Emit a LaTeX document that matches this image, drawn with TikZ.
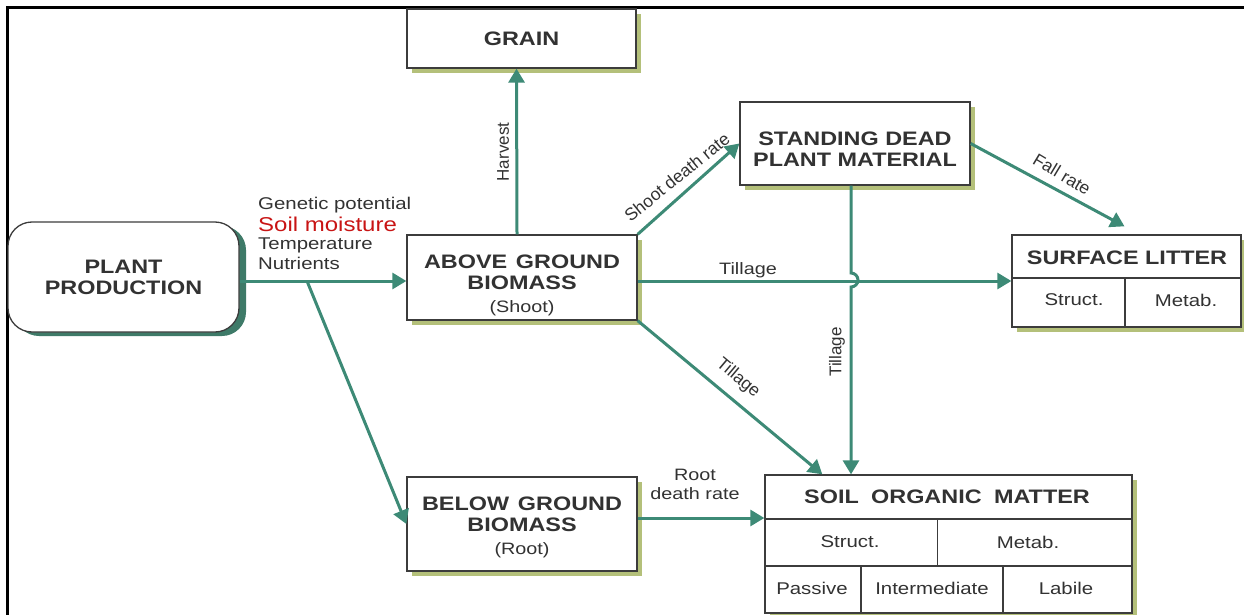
\documentclass[tikz,border=0pt]{standalone}
\usepackage{fontspec}
\setmainfont{Liberation Sans}[FakeStretch=1.2]
\newfontfamily\plainsans{Liberation Sans}
\usetikzlibrary{arrows.meta,shadows}
\definecolor{arrowteal}{RGB}{61,138,118}
\definecolor{shadeolive}{RGB}{180,192,122}
\definecolor{shadeteal}{RGB}{62,122,104}
\definecolor{boxline}{RGB}{60,60,60}
\definecolor{txtgray}{RGB}{50,50,50}
\definecolor{moist}{RGB}{200,20,20}
\newcommand\ttlfnt{\fontsize{19.5}{21}\selectfont\bfseries}
\newcommand\lblfnt{\fontsize{16.5}{19}\selectfont\mdseries}
\newcommand\vlblfnt{\plainsans\fontsize{17}{19}\selectfont}
\newcommand\dlblfnt{\plainsans\fontsize{17.5}{19}\selectfont}
\begin{document}
\begin{tikzpicture}[x=1pt,y=-1pt,
  box/.style={draw=boxline,line width=1.3pt,fill=white,inner sep=0pt,text=txtgray,align=center,font=\ttlfnt,
    copy shadow={shadow xshift=5pt,shadow yshift=-5pt,draw=none,fill=shadeolive}},
  rbox/.style={draw=boxline,line width=1.3pt,fill=white,inner sep=0pt,text=txtgray,align=center,font=\ttlfnt,rounded corners=24pt,
    copy shadow={shadow xshift=7pt,shadow yshift=-4pt,draw=none,fill=shadeteal}},
  arr/.style={draw=arrowteal,line width=3pt,-{Triangle[length=14pt,width=16pt]}},
  conn/.style={draw=arrowteal,line width=3pt},
  divider/.style={draw=boxline,line width=1.3pt},
  lbl/.style={inner sep=0pt,text=txtgray,font=\lblfnt,align=center},
  vlbl/.style={inner sep=0pt,text=txtgray,font=\vlblfnt,align=center},
  dlbl/.style={inner sep=0pt,text=txtgray,font=\dlblfnt,align=center},
  cell/.style={inner sep=0pt,text=txtgray,font=\fontsize{17}{19}\selectfont\mdseries},
  ttl/.style={inner sep=0pt,text=txtgray,font=\ttlfnt}
]
\useasboundingbox (0,0) rectangle (1244,615);
% frame
\draw[line width=2.5pt,black] (7.5,615) -- (7.5,7.5) -- (1244,7.5);

% boxes
\node[rbox,minimum width=231pt,minimum height=110pt] (plant) at (123.5,277) {PLANT\\PRODUCTION};
\node[box,minimum width=229pt,minimum height=59pt] (grain) at (521.5,38.5) {GRAIN};
\node[box,minimum width=230pt,minimum height=85pt] (above) at (522,277.5) {\rule{0pt}{30pt}ABOVE\hspace{0.45em}GROUND\\BIOMASS\\[2pt]{\lblfnt (Shoot)}};
\node[box,minimum width=230pt,minimum height=94pt] (below) at (522,524) {\rule{0pt}{20pt}BELOW\hspace{0.45em}GROUND\\BIOMASS\\[2pt]{\lblfnt (Root)}};
\node[box,minimum width=230pt,minimum height=83pt] (standing) at (855,143.5) {\rule{0pt}{24pt}STANDING DEAD\\PLANT MATERIAL};
\node[box,minimum width=229pt,minimum height=92pt] (litter) at (1126.5,281) {};
\node[box,minimum width=367pt,minimum height=138pt] (som) at (948.5,544) {};

% surface litter inside
\coordinate (lrow) at (1125,278);
\draw[divider] (litter.west |- lrow) -- (litter.east |- lrow);
\draw[divider] (lrow) -- (lrow |- litter.south);
\node[ttl] (littert) at (1127,258) {SURFACE LITTER};
\node[cell] (litters) at (1074,300) {Struct.};
\node[cell] (litterm) at (1186,300) {Metab.};

% soil organic matter inside
\coordinate (srow1) at (937.5,519);
\coordinate (srow2a) at (861,566);
\coordinate (srow2b) at (1003,566);
\draw[divider] (som.west |- srow1) -- (som.east |- srow1);
\draw[divider] (som.west |- srow2a) -- (som.east |- srow2a);
\draw[divider] (srow1) -- (srow1 |- srow2a);
\draw[divider] (srow2a) -- (srow2a |- som.south);
\draw[divider] (srow2b) -- (srow2b |- som.south);
\node[ttl] (somt) at (947,497) {SOIL\hspace{0.3em} ORGANIC\hspace{0.3em} MATTER};
\node[cell] (soms) at (850,542) {Struct.};
\node[cell] (somm) at (1028,542) {Metab.};
\node[cell] (somp) at (812,588) {Passive};
\node[cell] (somi) at (932,588) {Intermediate};
\node[cell] (soml) at (1066,588) {Labile};

% factor labels
\node[lbl,anchor=west,font=\fontsize{17}{19}\selectfont] (gen) at (258,205) {Genetic potential};
\node[lbl,anchor=west,text=moist,font=\fontsize{20}{22}\selectfont] (moisture) at (258,224) {Soil moisture};
\node[lbl,anchor=west,font=\fontsize{17}{19}\selectfont] (temp) at (258,245) {Temperature};
\node[lbl,anchor=west,font=\fontsize{17}{19}\selectfont] (nutr) at (258,263) {Nutrients};

% connectors
\coordinate (split) at (307,281);
\draw[conn] (plant.east |- split) -- (split);
\draw[arr] (split) -- (above.west |- split);
\draw[arr] (split) -- (below.west);
\draw[arr] ([xshift=-5pt]above.north) -- ([xshift=-5pt]grain.south);
\draw[arr] (above.north east) -- (standing.west);
\draw[arr] (above.east |- litter.west) -- (litter.west);
\draw[arr] (above.south east) -- ([xshift=58pt]som.north west);
\draw[arr] (standing.east) -- ([xshift=-2pt,yshift=8pt]litter.north);
\draw[arr] ([xshift=-4pt]standing.south) coordinate (vt) -- (vt |- 0,273) arc[start angle=90,end angle=-90,radius=7pt] -- (vt |- som.north);
\draw[arr] ([yshift=6pt]below.east) coordinate (rd) -- (rd -| som.west);

% connector labels
\node[vlbl,rotate=90] (harvest) at (503,152) {Harvest};
\node[dlbl,rotate=39] (shootdr) at (677,177) {Shoot death rate};
\node[dlbl,rotate=-31] (fallr) at (1062,174) {Fall rate};
\node[lbl] (tillh) at (748,270) {Tillage};
\node[dlbl,rotate=-40] (tilld) at (738,378) {Tillage};
\node[vlbl,rotate=90] (tillv) at (837,352) {Tillage};
\node[lbl,font=\fontsize{16.5}{19.5}\selectfont] (rootdr) at (695,484.5) {Root\\death rate};
\end{tikzpicture}
\end{document}
